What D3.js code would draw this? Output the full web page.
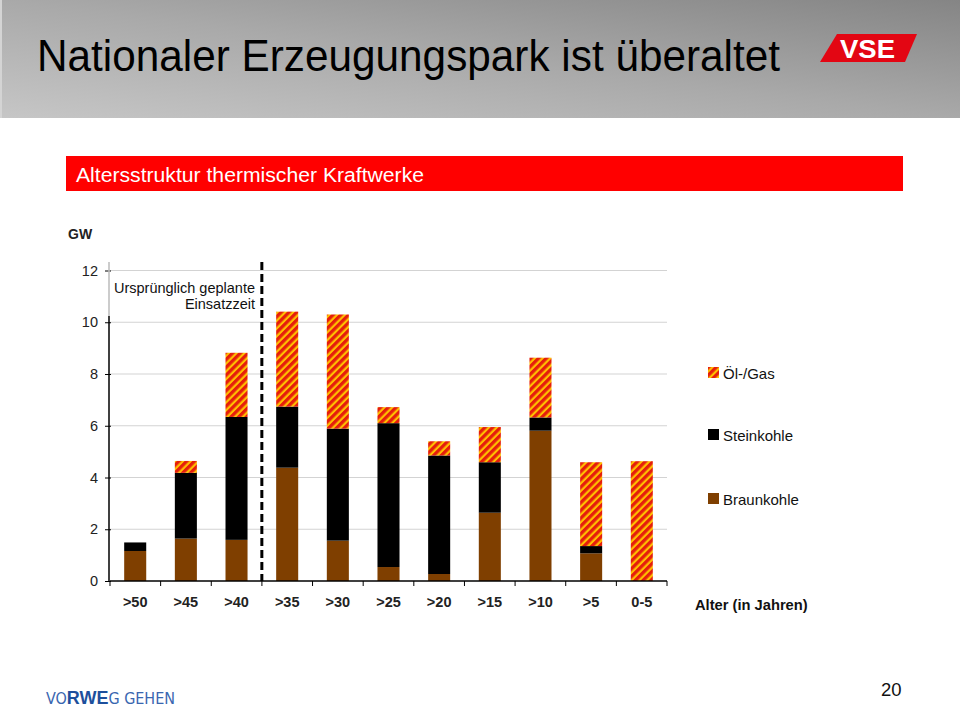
<!DOCTYPE html>
<html><head><meta charset="utf-8">
<script src="https://cdn.jsdelivr.net/npm/d3@7"></script>
<style>html,body{margin:0;padding:0;background:#fff;}svg{display:block;font-family:"Liberation Sans",Arial,sans-serif;}</style>
</head><body>
<script>
const categories = [">50",">45",">40",">35",">30",">25",">20",">15",">10",">5","0-5"];
const braunkohle = [1.16,1.64,1.59,4.38,1.56,0.54,0.27,2.64,5.81,1.07,0];
const steinkohle = [0.33,2.54,4.75,2.36,4.33,5.56,4.58,1.95,0.51,0.28,0];
const oelGas     = [0,0.46,2.48,3.67,4.41,0.62,0.55,1.36,2.31,3.24,4.63];
const yTicks = [0,2,4,6,8,10,12];
const seriesNames = ["Braunkohle","Steinkohle","Öl-/Gas"];
const legendOrder = ["Öl-/Gas","Steinkohle","Braunkohle"];

const W=960,H=712;
const svg=d3.select("body").append("svg").attr("width",W).attr("height",H);
const defs=svg.append("defs");
const g=defs.append("linearGradient").attr("id","hdr").attr("x1","0").attr("y1","1").attr("x2","1").attr("y2","0");
g.append("stop").attr("offset","0").attr("stop-color","#c6c6c6");
g.append("stop").attr("offset","0.5").attr("stop-color","#a9a9a9");
g.append("stop").attr("offset","1").attr("stop-color","#858585");
const pat=defs.append("pattern").attr("id","hatch").attr("patternUnits","userSpaceOnUse")
  .attr("width",5.5).attr("height",5.5).attr("patternTransform","rotate(45)");
pat.append("rect").attr("width",5.5).attr("height",5.5).attr("fill","#e51e0c");
pat.append("rect").attr("x",3.3).attr("width",2.2).attr("height",5.5).attr("fill","#ffc000");

// header
svg.append("rect").attr("x",0).attr("y",0).attr("width",W).attr("height",118).attr("fill","url(#hdr)");
svg.append("rect").attr("x",0).attr("y",0).attr("width",2).attr("height",118).attr("fill","#d4d4d4");
svg.append("text").attr("x",37).attr("y",71).attr("font-size",44).attr("fill","#000")
  .attr("textLength",743).attr("lengthAdjust","spacingAndGlyphs").text("Nationaler Erzeugungspark ist überaltet");
svg.append("polygon").attr("points","837,34 917,34 905,62 820,62").attr("fill","#e30613");
svg.append("text").attr("x",840).attr("y",58).attr("font-size",26).attr("font-weight","bold").attr("fill","#fff")
  .attr("textLength",55).attr("lengthAdjust","spacingAndGlyphs").text("VSE");

// red sub-header
svg.append("rect").attr("x",66).attr("y",156).attr("width",837).attr("height",35).attr("fill","#ff0000");
svg.append("text").attr("x",76).attr("y",181.5).attr("font-size",20.5).attr("fill","#fff")
  .attr("textLength",348).attr("lengthAdjust","spacingAndGlyphs").text("Altersstruktur thermischer Kraftwerke");

// chart
const x0=110,x1=667,yB=581;
const x=d3.scaleBand().domain(categories).range([x0,x1]).paddingInner(0.565).paddingOuter(0.28);
const y=d3.scaleLinear().domain([0,12]).range([yB,270.5]);

const grid=svg.append("g");
grid.selectAll("line").data(yTicks.filter(d=>d>0)).join("line")
  .attr("x1",x0).attr("x2",x1).attr("y1",d=>y(d)).attr("y2",d=>y(d)).attr("stroke","#d3d3d3").attr("stroke-width",1);

const table=categories.map((c,i)=>({cat:c,"Braunkohle":braunkohle[i],"Steinkohle":steinkohle[i],"Öl-/Gas":oelGas[i]}));
const stack=d3.stack().keys(seriesNames)(table);
const fills={"Braunkohle":"#7f3f00","Steinkohle":"#000000","Öl-/Gas":"url(#hatch)"};
svg.append("g").selectAll("g").data(stack).join("g").attr("fill",d=>fills[d.key])
  .selectAll("rect").data(d=>d).join("rect")
  .attr("x",d=>x(d.data.cat)).attr("width",x.bandwidth())
  .attr("y",d=>y(d[1])).attr("height",d=>Math.max(0,y(d[0])-y(d[1])));

// y axis
const ya=svg.append("g").attr("transform",`translate(${x0-1},0)`)
  .call(d3.axisLeft(y).tickValues(yTicks).tickSize(4).tickPadding(7).tickFormat(d3.format("d")));
ya.select(".domain").remove();
ya.selectAll(".tick line").attr("stroke","#000").attr("x2",-4).attr("x1",2);
ya.selectAll("text").attr("font-size",14.5).attr("fill","#222").attr("font-family","Liberation Sans, Arial, sans-serif");
svg.append("line").attr("x1",x0-1).attr("x2",x0-1).attr("y1",262).attr("y2",316).attr("stroke","#bbb").attr("stroke-width",1.5);
svg.append("line").attr("x1",x0-1).attr("x2",x0-1).attr("y1",316).attr("y2",yB).attr("stroke","#000").attr("stroke-width",1.5);

// x axis
const xa=svg.append("g").attr("transform",`translate(0,${yB})`)
  .call(d3.axisBottom(x).tickSize(0).tickPadding(16));
xa.select(".domain").attr("d",`M${x0},0H${x1}`).attr("stroke","#000").attr("stroke-width",1.5);
xa.selectAll("text").attr("font-size",14.5).attr("font-weight","bold").attr("fill","#222").attr("font-family","Liberation Sans, Arial, sans-serif");
const bounds=d3.range(categories.length+1).map(i=>x0+i*(x1-x0)/categories.length);
svg.append("g").selectAll("line").data(bounds).join("line")
  .attr("x1",d=>d).attr("x2",d=>d).attr("y1",yB).attr("y2",yB+5).attr("stroke","#000").attr("stroke-width",1);

// dashed line
const dashX=(x(">40")+x.bandwidth()+x(">35"))/2;
svg.append("line").attr("x1",dashX).attr("x2",dashX).attr("y1",262).attr("y2",yB)
  .attr("stroke","#000").attr("stroke-width",3).attr("stroke-dasharray","8,4");
svg.append("text").attr("x",255).attr("y",293).attr("text-anchor","end").attr("font-size",14.5).attr("fill","#111").text("Ursprünglich geplante");
svg.append("text").attr("x",255).attr("y",309).attr("text-anchor","end").attr("font-size",14.5).attr("fill","#111").text("Einsatzzeit");

// GW label
svg.append("text").attr("x",68).attr("y",239).attr("font-size",14).attr("font-weight","bold").attr("fill","#222").text("GW");

// legend
const legY={"Öl-/Gas":367,"Steinkohle":429,"Braunkohle":493};
const lg=svg.append("g").selectAll("g").data(legendOrder).join("g");
lg.append("rect").attr("x",708).attr("y",d=>legY[d]).attr("width",11).attr("height",11).attr("fill",d=>fills[d]);
lg.append("text").attr("x",723).attr("y",d=>legY[d]+11.5).attr("font-size",15).attr("fill","#111").text(d=>d);

svg.append("text").attr("x",695).attr("y",610).attr("font-size",14.7).attr("font-weight","bold").attr("fill","#111").text("Alter (in Jahren)");

// footer
const ft=svg.append("text").attr("x",46).attr("y",704).attr("font-size",16).attr("textLength",129).attr("lengthAdjust","spacingAndGlyphs");
ft.append("tspan").attr("fill","#3a66b0").attr("font-family","DejaVu Sans Condensed, Liberation Sans Narrow, sans-serif").text("VO");
ft.append("tspan").attr("fill","#1d4f9c").attr("font-weight","bold").attr("font-size",18).text("RWE");
ft.append("tspan").attr("fill","#3a66b0").attr("font-family","DejaVu Sans Condensed, Liberation Sans Narrow, sans-serif").text("G GEHEN");
svg.append("text").attr("x",881).attr("y",696).attr("font-size",18.5).attr("fill","#111").text("20");
</script>
</body></html>
